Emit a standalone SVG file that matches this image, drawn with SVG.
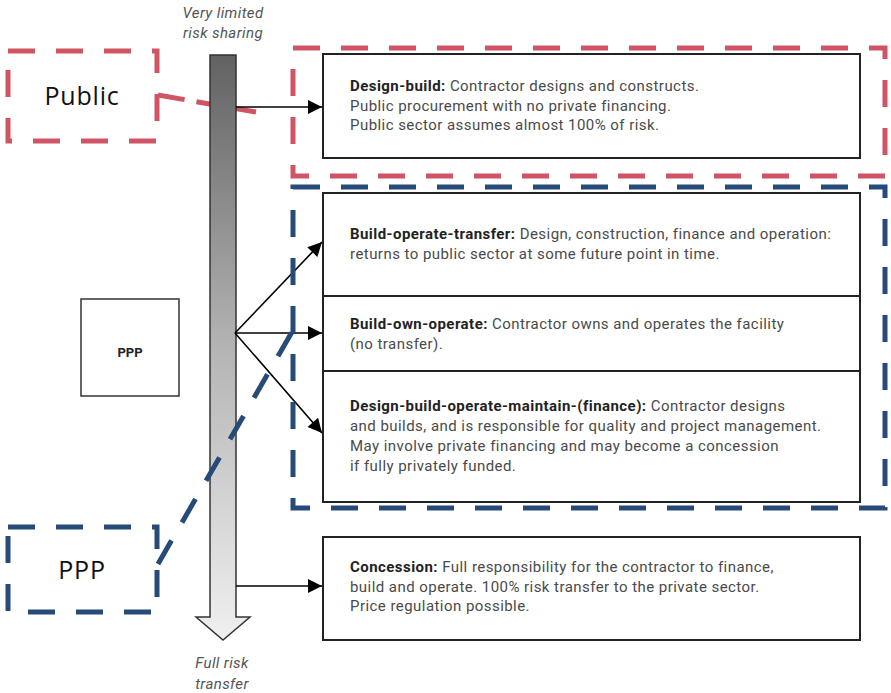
<svg xmlns="http://www.w3.org/2000/svg" width="891" height="693" viewBox="0 0 891 693">
<defs>
<linearGradient id="g" x1="0" y1="0" x2="0" y2="1">
<stop offset="0" stop-color="#626262"/>
<stop offset="0.5" stop-color="#b4b4b4"/>
<stop offset="1" stop-color="#f0f0f0"/>
</linearGradient>
<marker id="ahL" viewBox="0 0 10 10" refX="10" refY="5" markerWidth="17" markerHeight="14" markerUnits="userSpaceOnUse" orient="auto">
<path d="M0,0 L10,5 L0,10 z" fill="#000"/>
</marker>
</defs>
<style>
.box{fill:#fff;stroke:#222;stroke-width:2}
.red{fill:none;stroke:#d05564;stroke-width:5;stroke-dasharray:27 21}
.blue{fill:none;stroke:#264b78;stroke-width:5;stroke-dasharray:27 21}
.t{font-family:Roboto,"Liberation Sans",sans-serif;font-size:15px;fill:#4a4a4a;letter-spacing:0.45px}
.t tspan.b{font-weight:bold;fill:#222}
.it{font-family:Roboto,"Liberation Sans",sans-serif;font-size:15px;font-style:italic;fill:#555;text-anchor:middle;letter-spacing:0.4px}
.lab{font-family:"Open Sans","Noto Sans",sans-serif;font-size:25px;fill:#111;text-anchor:middle;letter-spacing:0.8px}
.conn{stroke:#000;stroke-width:1.6;fill:none}
</style>
<rect width="891" height="693" fill="#fff"/>

<g id="public-link">
<line class="red" x1="158" y1="95" x2="256" y2="112" style="stroke-dasharray:27 12 62 0"/>
</g>

<g id="scale">
<text class="it" x="223" y="18">Very limited</text>
<text class="it" x="223" y="38">risk sharing</text>
<polygon points="210,55 236,55 236,617 250,617 223,640 196,617 210,617" fill="url(#g)" stroke="#333" stroke-width="1.5"/>
<text class="it" x="222" y="668">Full risk</text>
<text class="it" x="222" y="689">transfer</text>
</g>

<g id="connectors">
<line class="conn" x1="236" y1="107" x2="322" y2="107" marker-end="url(#ahL)"/>
<line class="conn" x1="235" y1="333" x2="322" y2="242" marker-end="url(#ahL)"/>
<line class="conn" x1="235" y1="333" x2="322" y2="333" marker-end="url(#ahL)"/>
<line class="conn" x1="235" y1="333" x2="322" y2="433" marker-end="url(#ahL)"/>
<line class="conn" x1="236" y1="586" x2="322" y2="586" marker-end="url(#ahL)"/>
<line class="blue" x1="158" y1="564" x2="296" y2="325"/>
</g>

<g id="design-build">
<rect class="box" x="323" y="54" width="537" height="104"/>
<text class="t" x="350" y="91"><tspan class="b">Design-build:</tspan> Contractor designs and constructs.</text>
<text class="t" x="350" y="111">Public procurement with no private financing.</text>
<text class="t" x="350" y="130">Public sector assumes almost 100% of risk.</text>
</g>

<g id="bot">
<rect class="box" x="323" y="193" width="537" height="103"/>
<text class="t" x="350" y="239"><tspan class="b">Build-operate-transfer:</tspan> Design, construction, finance and operation:</text>
<text class="t" x="350" y="259">returns to public sector at some future point in time.</text>
</g>

<g id="boo">
<rect class="box" x="323" y="296" width="537" height="75"/>
<text class="t" x="350" y="329"><tspan class="b">Build-own-operate:</tspan> Contractor owns and operates the facility</text>
<text class="t" x="350" y="349">(no transfer).</text>
</g>

<g id="dbom">
<rect class="box" x="323" y="371" width="537" height="131"/>
<text class="t" x="350" y="411"><tspan class="b">Design-build-operate-maintain-(finance):</tspan> Contractor designs</text>
<text class="t" x="350" y="431">and builds, and is responsible for quality and project management.</text>
<text class="t" x="350" y="451">May involve private financing and may become a concession</text>
<text class="t" x="350" y="471">if fully privately funded.</text>
</g>

<g id="concession">
<rect class="box" x="323" y="537" width="537" height="103"/>
<text class="t" x="350" y="572"><tspan class="b">Concession:</tspan> Full responsibility for the contractor to finance,</text>
<text class="t" x="350" y="592">build and operate. 100% risk transfer to the private sector.</text>
<text class="t" x="350" y="611">Price regulation possible.</text>
</g>

<g id="ppp-small">
<rect x="81" y="299" width="98" height="97" fill="#fff" stroke="#333" stroke-width="1.5"/>
<text x="130" y="357" font-family="Roboto,'Liberation Sans',sans-serif" font-size="13" font-weight="bold" fill="#222" text-anchor="middle">PPP</text>
</g>

<g id="public-group">
<rect class="red" x="293" y="48" width="592" height="128"/>
<rect class="red" x="8" y="51" width="149" height="90"/>
<text class="lab" x="82" y="105">Public</text>
</g>

<g id="ppp-group">
<rect class="blue" x="293" y="187" width="592" height="321"/>
<rect class="blue" x="8" y="527" width="149" height="85"/>
<text class="lab" x="82" y="579">PPP</text>
</g>
</svg>
